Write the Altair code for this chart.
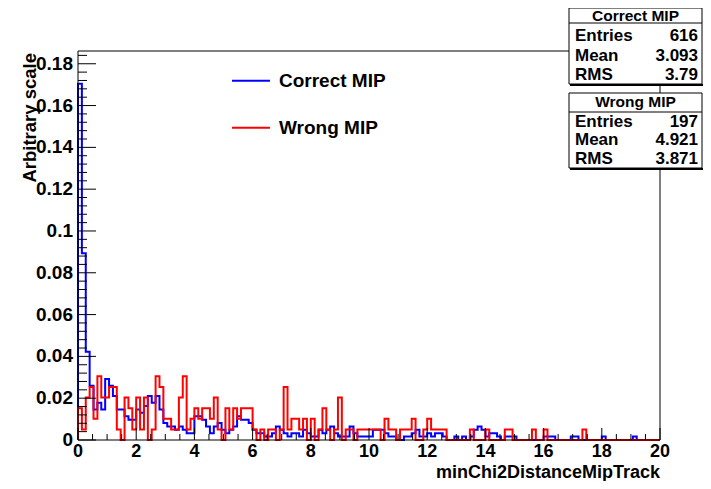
import altair as alt
import pandas as pd

# ---------------- data ----------------
X_MIN, X_MAX = 0.0, 20.0

correct_counts = [
    105, 55, 26, 16, 9, 11, 9, 18, 16, 13, 9, 9, 7, 6, 6, 9, 8, 10, 13,
    11, 13, 9, 5, 4, 4, 3, 4, 3, 2, 2, 7, 7, 6, 4, 2, 4, 5, 3,
    2, 3, 4, 7, 6, 6, 5, 3, 2, 2, 1, 1, 2, 4, 3, 2, 1, 2, 2, 1,
    3, 2, 1, 1, 3, 2, 3, 4, 2, 1, 1, 1, 4, 2, 1, 1, 1, 1, 3, 3,
    3, 2, 1, 1, 0, 0, 1, 1, 2, 3, 1, 1, 2, 1, 2, 2, 1, 0, 0, 1,
    0, 1, 0, 1, 3, 4, 3, 1, 2, 2, 1, 0, 1, 1, 1, 0, 0, 0, 0, 0,
    0, 0, 1, 1, 1, 0, 0, 0, 0, 1, 1, 0, 0, 0, 0, 0, 0, 1, 0, 0,
    0, 0, 0, 0, 0, 1, 0, 0, 0, 0, 0, 0,
]
wrong_counts = [
    3, 1, 4, 5, 2, 6, 4, 4, 5, 5, 1, 0, 4, 3, 1, 4, 1, 4, 0,
    1, 6, 5, 2, 2, 1, 1, 4, 6, 1, 2, 3, 2, 3, 3, 2, 4, 1, 0,
    3, 1, 3, 2, 3, 3, 3, 1, 0, 1, 0, 1, 1, 0, 1, 5, 1, 2, 2, 1,
    2, 0, 2, 0, 1, 3, 1, 0, 1, 4, 0, 1, 1, 0, 1, 1, 1, 1, 1, 1,
    0, 2, 1, 1, 0, 1, 1, 1, 2, 0, 0, 1, 2, 1, 1, 1, 1, 0, 0, 0,
    0, 0, 0, 1, 0, 0, 0, 1, 0, 0, 0, 0, 1, 1, 0, 0, 0, 0, 0, 1,
    0, 0, 1, 0, 0, 0, 0, 0, 0, 0, 0, 0, 1, 0, 0, 0, 0, 0, 0, 0,
    0, 0, 0, 0, 0, 0, 0, 0, 0, 0, 0, 0,
]
correct_entries = 616
wrong_entries = 197

series_names = ["Correct MIP", "Wrong MIP"]
series_colors = ["#0000ff", "#ff0000"]

stat_labels = ["Entries", "Mean", "RMS"]
correct_stats = ["616", "3.093", "3.79"]
wrong_stats = ["197", "4.921", "3.871"]

x_tick_values = [0, 2, 4, 6, 8, 10, 12, 14, 16, 18, 20]
y_tick_values = [0, 0.02, 0.04, 0.06, 0.08, 0.1, 0.12, 0.14, 0.16, 0.18]
x_title = "minChi2DistanceMipTrack"
y_title = "Arbitrary scale"

# ---------------- layout ----------------
PAD_L, PAD_T = 70, 43
W, H = 582, 389
PAD_R = 695 - PAD_L - W
PAD_B = 473 - PAD_T - H
FONT = "Liberation Sans"
Y_TOP = 0.1861

xscale = alt.Scale(domain=[X_MIN, X_MAX], nice=False, zero=False)
yscale = alt.Scale(domain=[0, Y_TOP], nice=False, zero=True)

one = pd.DataFrame({"a": [0]})


def outline(counts, entries):
    w = (X_MAX - X_MIN) / len(counts)
    rows = [{"x": X_MIN, "y": 0.0}]
    for i, c in enumerate(counts):
        v = c / entries
        rows.append({"x": X_MIN + i * w, "y": v})
        rows.append({"x": X_MIN + (i + 1) * w, "y": v})
    rows.append({"x": X_MAX, "y": 0.0})
    for k, r in enumerate(rows):
        r["o"] = k
    return pd.DataFrame(rows)


def txt(text, **kw):
    base = dict(font=FONT, fontWeight="bold", color="black")
    base.update(kw)
    return alt.Chart(pd.DataFrame({"t": [text]})).mark_text(**base)


def py(page_y):
    """page pixel y -> plot-relative y"""
    return page_y - 8 - PAD_T


layers = []

# histograms
for counts, entries, color in [
    (correct_counts, correct_entries, series_colors[0]),
    (wrong_counts, wrong_entries, series_colors[1]),
]:
    df = outline(counts, entries)
    layers.append(
        alt.Chart(df).mark_line(color=color, strokeWidth=2, strokeJoin="miter").encode(
            x=alt.X("x:Q", scale=xscale, axis=None),
            y=alt.Y("y:Q", scale=yscale, axis=None),
            order="o:Q",
        )
    )

# frame
layers.append(
    alt.Chart(one).mark_rect(fill="white", fillOpacity=0, stroke="black", strokeWidth=1).encode(
        x=alt.value(0), x2=alt.value(W), y=alt.value(0), y2=alt.value(H)
    )
)

# inward ticks
y_minor = [round(0.004 * k, 4) for k in range(47) if k % 5 != 0]
x_minor = [0.5 * k for k in range(41) if k % 4 != 0]
layers.append(
    alt.Chart(pd.DataFrame({"v": y_tick_values})).mark_rule(color="black", strokeWidth=1).encode(
        y=alt.Y("v:Q", scale=yscale, axis=None), x=alt.value(0), x2=alt.value(18)
    )
)
layers.append(
    alt.Chart(pd.DataFrame({"v": y_minor})).mark_rule(color="black", strokeWidth=1).encode(
        y=alt.Y("v:Q", scale=yscale, axis=None), x=alt.value(0), x2=alt.value(9)
    )
)
layers.append(
    alt.Chart(pd.DataFrame({"v": x_tick_values})).mark_rule(color="black", strokeWidth=1).encode(
        x=alt.X("v:Q", scale=xscale, axis=None), y=alt.value(H), y2=alt.value(H - 12)
    )
)
layers.append(
    alt.Chart(pd.DataFrame({"v": x_minor})).mark_rule(color="black", strokeWidth=1).encode(
        x=alt.X("v:Q", scale=xscale, axis=None), y=alt.value(H), y2=alt.value(H - 6)
    )
)

# tick labels
x_lab_df = pd.DataFrame({"v": x_tick_values, "t": [f"{v:g}" for v in x_tick_values]})
y_lab_df = pd.DataFrame({"v": y_tick_values, "t": [f"{v:g}" for v in y_tick_values]})
layers.append(
    alt.Chart(x_lab_df).mark_text(
        font=FONT, fontWeight="bold", fontSize=18, color="black", align="center", baseline="top"
    ).encode(x=alt.X("v:Q", scale=xscale, axis=None), y=alt.value(H + 3), text="t:N")
)
layers.append(
    alt.Chart(y_lab_df).mark_text(
        font=FONT, fontWeight="bold", fontSize=19, color="black", align="right", baseline="middle"
    ).encode(y=alt.Y("v:Q", scale=yscale, axis=None), x=alt.value(-5), text="t:N")
)

# axis titles
layers.append(
    txt(x_title, fontSize=18, align="right", baseline="alphabetic").encode(
        x=alt.value(W), y=alt.value(py(478)), text="t:N"
    )
)
layers.append(
    txt(y_title, fontSize=18.5, align="right", baseline="middle", angle=270).encode(
        x=alt.value(-48), y=alt.value(py(53)), text="t:N"
    )
)

# legend (no border)
legend_y = [80.7, 127.7]
for name, color, ly in zip(series_names, series_colors, legend_y):
    layers.append(
        alt.Chart(one).mark_rule(color=color, strokeWidth=2).encode(
            x=alt.value(154), x2=alt.value(192), y=alt.value(py(ly))
        )
    )
    layers.append(
        txt(name, fontSize=19, align="left", baseline="middle").encode(
            x=alt.value(201), y=alt.value(py(ly + 0.5)), text="t:N"
        )
    )

# stats boxes (page coordinates)
BX1, BX2 = 491, 624
boxes = [
    # title, values, top, separator, title centre, row centres, bottom
    (series_names[0], correct_stats, 8, 23, 15.5, [35.5, 56, 74.5], 84),
    (series_names[1], wrong_stats, 93, 112, 101.5, [121.5, 140, 158.5], 168),
]
for title, vals, top, sep, tc, rows, bottom in boxes:
    layers.append(
        alt.Chart(one).mark_rect(fill="white", stroke="black", strokeWidth=1).encode(
            x=alt.value(BX1), x2=alt.value(BX2), y=alt.value(py(top)), y2=alt.value(py(bottom))
        )
    )
    layers.append(
        alt.Chart(one).mark_rule(color="black", strokeWidth=2).encode(
            x=alt.value(BX1 + 1), x2=alt.value(BX2 + 1), y=alt.value(py(bottom) + 1)
        )
    )
    layers.append(
        alt.Chart(one).mark_rule(color="black", strokeWidth=1).encode(
            x=alt.value(BX1), x2=alt.value(BX2), y=alt.value(py(sep))
        )
    )
    layers.append(
        txt(title, fontSize=15.5, align="center", baseline="middle").encode(
            x=alt.value((BX1 + BX2) / 2), y=alt.value(py(tc)), text="t:N"
        )
    )
    for lab, val, ry in zip(stat_labels, vals, rows):
        layers.append(
            txt(lab, fontSize=17, align="left", baseline="middle").encode(
                x=alt.value(BX1 + 6), y=alt.value(py(ry)), text="t:N"
            )
        )
        layers.append(
            txt(val, fontSize=17, align="right", baseline="middle").encode(
                x=alt.value(BX2 - 4), y=alt.value(py(ry)), text="t:N"
            )
        )

chart = alt.layer(*layers).properties(
    width=W,
    height=H,
    padding={"left": PAD_L, "top": PAD_T, "right": PAD_R, "bottom": PAD_B},
    autosize=alt.AutoSizeParams(type="none"),
    background="white",
).configure_view(strokeWidth=0)

chart.save("out.html", embed_options={"renderer": "svg", "actions": False})
